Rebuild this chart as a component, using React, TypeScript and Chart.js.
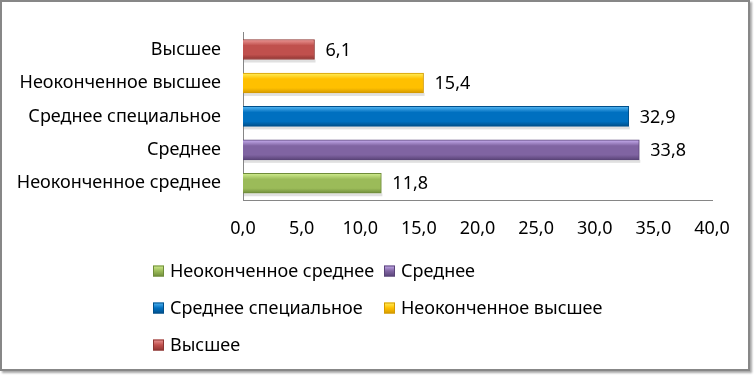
import React, { useEffect, useRef } from "react";
import { Chart, registerables } from "chart.js";

Chart.register(...registerables);

const categories = ["Высшее", "Неоконченное высшее", "Среднее специальное", "Среднее", "Неоконченное среднее"];
const values = [6.1, 15.4, 32.9, 33.8, 11.8];
const baseColors = ["#C0504D", "#FFC000", "#0070C0", "#8064A2", "#9BBB59"];
const lightColors = ["#EC9896", "#FFF05E", "#56B8F4", "#C8AEF0", "#D2EE90"];
const darkColors = ["#8E3532", "#D49A00", "#004F8A", "#5A4478", "#6F8C3A"];
const xTickMin = 0;
const xTickMax = 40;
const xTickStep = 5;

const FONT = "'Noto Sans', sans-serif";
const FS = 18;

const gradientPlugin = {
  id: "bevelGradient",
  beforeDatasetsDraw(chart: any) {
    const ctx = chart.ctx;
    const meta = chart.getDatasetMeta(0);
    meta.data.forEach((el: any, i: number) => {
      const h = el.height;
      const top = el.y - h / 2;
      // soft shadow under each bar
      ctx.save();
      ctx.fillStyle = "rgba(0,0,0,0.12)";
      ctx.fillRect(el.base + 1, top + h, el.x - el.base, 3);
      ctx.restore();
      const g = ctx.createLinearGradient(0, top, 0, top + h);
      g.addColorStop(0, lightColors[i]);
      g.addColorStop(0.3, baseColors[i]);
      g.addColorStop(0.75, baseColors[i]);
      g.addColorStop(1, darkColors[i]);
      el.options.backgroundColor = g;
      el.options.borderColor = darkColors[i];
    });
  },
};

const valueLabelPlugin = {
  id: "valueLabels",
  afterDatasetsDraw(chart: any) {
    const ctx = chart.ctx;
    const meta = chart.getDatasetMeta(0);
    ctx.save();
    ctx.font = FS + "px " + FONT;
    ctx.fillStyle = "#000";
    ctx.textAlign = "left";
    ctx.textBaseline = "middle";
    meta.data.forEach((el: any, i: number) => {
      ctx.fillText(values[i].toFixed(1).replace(".", ","), el.x + 11, el.y + 1);
    });
    ctx.restore();
  },
};

const legendPlugin = {
  id: "customLegend",
  afterDraw(chart: any) {
    const ctx = chart.ctx;
    const items = categories.map((c, i) => ({ label: c, i })).reverse();
    const colX = [153, 384];
    const rowY = [271, 308, 345];
    ctx.save();
    ctx.font = FS + "px " + FONT;
    ctx.textBaseline = "middle";
    ctx.textAlign = "left";
    items.forEach((it, k) => {
      const col = k % 2;
      const row = Math.floor(k / 2);
      const x = colX[col];
      const y = rowY[row];
      const s = 11;
      const g = ctx.createLinearGradient(0, y - s / 2, 0, y + s / 2);
      g.addColorStop(0, lightColors[it.i]);
      g.addColorStop(0.5, baseColors[it.i]);
      g.addColorStop(1, darkColors[it.i]);
      ctx.fillStyle = g;
      ctx.fillRect(x, y - s / 2, s, s);
      ctx.strokeStyle = darkColors[it.i];
      ctx.lineWidth = 1;
      ctx.strokeRect(x + 0.5, y - s / 2 + 0.5, s - 1, s - 1);
      ctx.fillStyle = "#000";
      ctx.fillText(it.label, x + 17, y + 1);
    });
    ctx.restore();
  },
};

export default function App() {
  const ref = useRef<HTMLCanvasElement>(null);
  useEffect(() => {
    if (!ref.current) return;
    const chart = new Chart(ref.current, {
      type: "bar",
      data: {
        labels: categories,
        datasets: [
          {
            data: values,
            backgroundColor: baseColors,
            borderColor: darkColors,
            borderWidth: 1,
            barThickness: 20,
          },
        ],
      },
      options: {
        indexAxis: "y",
        responsive: false,
        animation: false,
        layout: { padding: { left: 0, right: 42, top: 24, bottom: 133 } },
        plugins: { legend: { display: false }, tooltip: { enabled: false } },
        scales: {
          x: {
            min: xTickMin,
            max: xTickMax,
            ticks: {
              stepSize: xTickStep,
              padding: 18,
              color: "#000",
              font: { family: FONT, size: FS },
              callback: (v: any) => Number(v).toFixed(1).replace(".", ","),
            },
            grid: { display: false, drawTicks: false },
            border: { display: true, color: "#868686", width: 1 },
            afterFit: (s: any) => {
              s.height = 42;
            },
          },
          y: {
            ticks: {
              padding: 22,
              color: "#000",
              font: { family: FONT, size: FS },
            },
            grid: { display: false, drawTicks: false },
            border: { display: true, color: "#868686", width: 1 },
            afterFit: (s: any) => {
              s.width = 243;
            },
          },
        },
      },
      plugins: [gradientPlugin, valueLabelPlugin, legendPlugin],
    });
    return () => chart.destroy();
  }, []);
  return (
    <div style={{ position: "fixed", left: 0, top: 0, width: 754, height: 375, background: "#fff" }}>
      <div
        style={{
          position: "absolute",
          left: 0,
          top: 0,
          width: 750,
          height: 371,
          boxSizing: "border-box",
          border: "2px solid #878787",
          boxShadow: "2px 2px 2px rgba(0,0,0,0.35)",
        }}
      />
      <canvas ref={ref} width={754} height={375} style={{ position: "absolute", left: 0, top: 0 }} />
    </div>
  );
}
